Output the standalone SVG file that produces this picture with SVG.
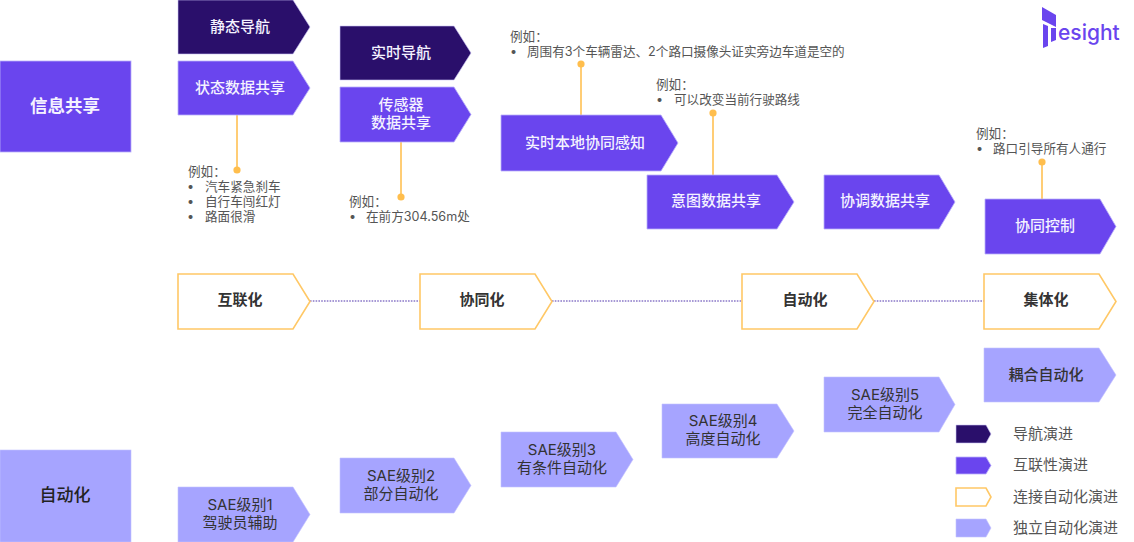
<svg xmlns="http://www.w3.org/2000/svg" width="1134" height="542" viewBox="0 0 1134 542">
<style>
text{font-family:"Inter","Noto Sans CJK SC",sans-serif}
.dark{fill:#2A0F6B;stroke:#C9C2F5;stroke-width:.6}
.pur{fill:#6A45EE;stroke:#B9B0FA;stroke-width:.8}
.lav{fill:#A6A4FF;stroke:#C4C3FF;stroke-width:.6}
.yel{fill:#fff;stroke:#FFC866;stroke-width:1.6}
.w{fill:#F4F2FF;font-size:15px;text-anchor:middle;font-weight:500}
.k{fill:#333;font-size:15px;text-anchor:middle}
.b{fill:#333;font-size:15px;text-anchor:middle;font-weight:700}
.n{fill:#555;font-size:12.6px}
.l{fill:#555;font-size:15px}
.lead{stroke:#FFC866;stroke-width:1.8;fill:none}
.dot{fill:#FFBE4D}
.chain{stroke:#8A78C8;stroke-width:1.6;stroke-dasharray:1.6 1.2;fill:none}
</style>
<g id="connectors">
<path class="lead" d="M237 115V170"/><circle class="dot" cx="237" cy="170" r="3.6"/>
<path class="lead" d="M401 142V197"/><circle class="dot" cx="401" cy="197" r="3.6"/>
<path class="lead" d="M581 64V115"/><circle class="dot" cx="581" cy="64" r="3.6"/>
<path class="lead" d="M713 113V175"/><circle class="dot" cx="713" cy="113" r="3.6"/>
<path class="lead" d="M1042 162V199"/><circle class="dot" cx="1042" cy="162" r="3.6"/>
<path class="chain" d="M310 301H420M552 301H742M874 301H984"/>
</g>
<g id="info"><rect class="pur" x="0" y="61" width="131" height="91"/><text class="w" x="65" y="112" style="font-size:17.5px;font-weight:700">信息共享</text></g>
<g id="auto"><rect class="lav" x="0" y="450" width="131" height="92"/><text class="b" x="65" y="501" style="font-size:17px;font-weight:500;fill:#222">自动化</text></g>
<g id="n1"><polygon class="dark" points="178,0 293,0 310,27 293,54 178,54"/><text class="w" x="240" y="32">静态导航</text></g>
<g id="n2"><polygon class="pur" points="178,61 293,61 310,88 293,115 178,115"/><text class="w" x="240" y="93">状态数据共享</text></g>
<g id="n3"><polygon class="dark" points="340,26 454,26 471,53 454,80 340,80"/><text class="w" x="401" y="58">实时导航</text></g>
<g id="n4"><polygon class="pur" points="340,87 454,87 471,114.500 454,142 340,142"/><text class="w" x="401" y="110">传感器</text><text class="w" x="401" y="128">数据共享</text></g>
<g id="n5"><polygon class="pur" points="501,115 661,115 678,143 661,171 501,171"/><text class="w" x="585" y="148">实时本地协同感知</text></g>
<g id="n6"><polygon class="pur" points="647,175 777,175 794,202 777,229 647,229"/><text class="w" x="716" y="206">意图数据共享</text></g>
<g id="n7"><polygon class="pur" points="824,175 939,175 955,202 939,229 824,229"/><text class="w" x="885" y="206">协调数据共享</text></g>
<g id="n8"><polygon class="pur" points="985,199 1100,199 1116,226.500 1100,254 985,254"/><text class="w" x="1045" y="231">协同控制</text></g>
<g id="y1"><polygon class="yel" points="178,274 293,274 310,301.500 293,329 178,329"/><text class="b" x="240" y="305">互联化</text></g>
<g id="y2"><polygon class="yel" points="420,274 535,274 552,301.500 535,329 420,329"/><text class="b" x="482" y="305">协同化</text></g>
<g id="y3"><polygon class="yel" points="742,274 857,274 874,301.500 857,329 742,329"/><text class="b" x="805" y="305">自动化</text></g>
<g id="y4"><polygon class="yel" points="984,274 1099,274 1116,301.500 1099,329 984,329"/><text class="b" x="1046" y="305">集体化</text></g>
<g id="s1"><polygon class="lav" points="178,487 293,487 310,514.500 293,542 178,542"/><text class="k" x="240" y="510">SAE级别1</text><text class="k" x="240" y="528">驾驶员辅助</text></g>
<g id="s2"><polygon class="lav" points="340,458 454,458 471,485.500 454,513 340,513"/><text class="k" x="401" y="481">SAE级别2</text><text class="k" x="401" y="499">部分自动化</text></g>
<g id="s3"><polygon class="lav" points="501,432 616,432 633,459.500 616,487 501,487"/><text class="k" x="562" y="455">SAE级别3</text><text class="k" x="562" y="473">有条件自动化</text></g>
<g id="s4"><polygon class="lav" points="662,404 777,404 794,431 777,458 662,458"/><text class="k" x="723" y="426">SAE级别4</text><text class="k" x="723" y="444">高度自动化</text></g>
<g id="s5"><polygon class="lav" points="824,377 939,377 955,404.500 939,432 824,432"/><text class="k" x="885" y="400">SAE级别5</text><text class="k" x="885" y="418">完全自动化</text></g>
<g id="s6"><polygon class="lav" points="984,348 1099,348 1116,375 1099,402 984,402"/><text class="k" x="1046" y="380" style="font-weight:500">耦合自动化</text></g>
<g id="note1"><text class="n" x="188" y="176">例如：</text><text class="n" x="187" y="191">•</text><text class="n" x="205" y="191">汽车紧急刹车</text><text class="n" x="187" y="206">•</text><text class="n" x="205" y="206">自行车闯红灯</text><text class="n" x="187" y="221">•</text><text class="n" x="205" y="221">路面很滑</text></g>
<g id="note2"><text class="n" x="349" y="206">例如：</text><text class="n" x="349" y="221">•</text><text class="n" x="366" y="221">在前方304.56m处</text></g>
<g id="note3"><text class="n" x="510" y="41">例如：</text><text class="n" x="510" y="56">•</text><text class="n" x="527" y="56">周围有3个车辆雷达、2个路口摄像头证实旁边车道是空的</text></g>
<g id="note4"><text class="n" x="656" y="89">例如：</text><text class="n" x="656" y="104">•</text><text class="n" x="674" y="104">可以改变当前行驶路线</text></g>
<g id="note5"><text class="n" x="976" y="138">例如：</text><text class="n" x="976" y="153">•</text><text class="n" x="993" y="153">路口引导所有人通行</text></g>
<g id="legend1"><polygon class="dark" points="956,425 986,425 991,434 986,443 956,443"/><text class="l" x="1013" y="439">导航演进</text></g>
<g id="legend2"><polygon class="pur" points="956,457 986,457 991,465.500 986,474 956,474"/><text class="l" x="1013" y="470">互联性演进</text></g>
<g id="legend3"><polygon class="yel" points="956,488 986,488 991,497 986,506 956,506"/><text class="l" x="1013" y="502">连接自动化演进</text></g>
<g id="legend4"><polygon class="lav" points="956,519 986,519 991,528 986,537 956,537"/><text class="l" x="1013" y="533">独立自动化演进</text></g>
<g id="logo"><polygon points="1042,7 1056,15 1056,27 1042,20" fill="#6A45EE"/><polygon points="1043,24 1048,26 1048,46 1043,48" fill="#6A45EE"/><polygon points="1051,28 1056,28 1056,40 1051,42" fill="#6A45EE"/><text x="1058" y="40" style="font-size:21px;font-weight:500;fill:#6A45EE">esight</text></g>
</svg>
